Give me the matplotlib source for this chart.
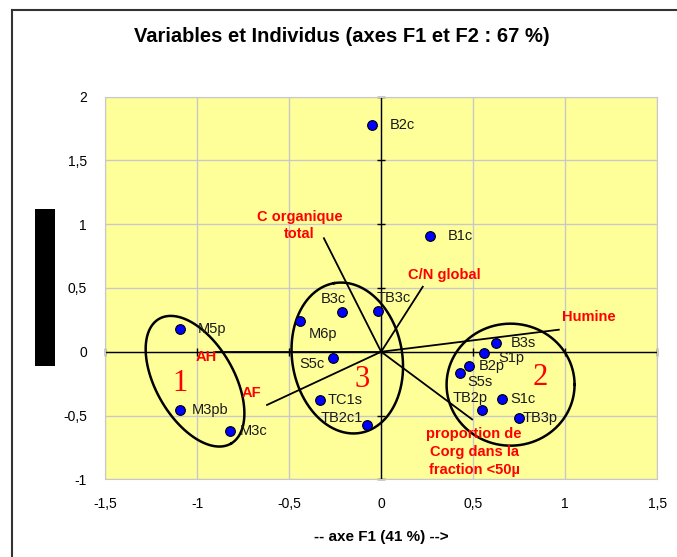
import numpy as np
import matplotlib
matplotlib.use("Agg")
import matplotlib.pyplot as plt
from matplotlib.lines import Line2D
from matplotlib.patches import Rectangle

plt.rcParams['font.family'] = ['Liberation Sans', 'DejaVu Sans']

# individuals (factor scores on F1 / F2)
ind_names = ["B2c", "B1c", "M5p", "M3pb", "M3c", "M6p", "B3c", "S5c", "TC1s",
             "TB2c1", "TB3c", "B3s", "S1p", "B2p", "S5s", "S1c", "TB2p", "TB3p"]
ind_x = [-0.05, 0.264, -1.095, -1.095, -0.82, -0.441, -0.215, -0.264, -0.334,
         -0.079, -0.015, 0.622, 0.557, 0.477, 0.428, 0.657, 0.548, 0.751]
ind_y = [1.78, 0.91, 0.18, -0.457, -0.62, 0.244, 0.31, -0.049, -0.378,
         -0.572, 0.32, 0.067, -0.01, -0.114, -0.164, -0.367, -0.459, -0.519]

# variables (correlation vectors)
var_names = ["C organique\ntotal", "C/N global", "Humine",
             "proportion de\nCorg dans la\nfraction <50µ", "AF", "AH"]
var_x = [-0.311, 0.226, 0.965, 0.494, -0.62, -0.9]
var_y = [0.89, 0.51, 0.173, -0.53, -0.417, 0.0]
var_lx = [-0.443, 0.343, 1.127, 0.505, -0.707, -0.95]
var_ly = [0.99, 0.605, 0.275, -0.786, -0.32, -0.04]

# groups: number, centre
grp_names = ["1", "3", "2"]
grp_x = [-1.095, -0.102, 0.865]
grp_y = [-0.247, -0.216, -0.2]

x_ticks = [-1.5, -1, -0.5, 0, 0.5, 1, 1.5]
x_labels = ["-1,5", "-1", "-0,5", "0", "0,5", "1", "1,5"]
y_ticks = [-1, -0.5, 0, 0.5, 1, 1.5, 2]
y_labels = ["-1", "-0,5", "0", "0,5", "1", "1,5", "2"]

# label placement (pixels offset, alignment)
lab_off = {
    "B2c": (18, 0, "left"), "B1c": (18, 0, "left"), "M5p": (18, 0, "left"),
    "M3pb": (12, 0, "left"), "M3c": (10, 0, "left"), "M6p": (9, -13, "left"),
    "B3c": (-8, 13, "center"), "S5c": (-8, -6, "right"), "TC1s": (8, 0, "left"),
    "TB2c1": (-4, 7, "right"), "TB3c": (15, 13, "center"), "B3s": (15, 0, "left"),
    "S1p": (15, -5, "left"), "B2p": (10, 0, "left"), "S5s": (7, -9, "left"),
    "S1c": (8, 0, "left"), "TB2p": (6, 12, "right"), "TB3p": (3, 0, "left"),
}

fig = plt.figure(figsize=(6.77, 5.57), dpi=100)
ax = fig.add_axes([0.1551, 0.1395, 0.8158, 0.6869])
ax.set_facecolor("#FFFF99")
ax.set_xlim(-1.5, 1.5)
ax.set_ylim(-1, 2)
ax.set_xticks(x_ticks)
ax.set_xticklabels(x_labels)
ax.set_yticks(y_ticks)
ax.set_yticklabels(y_labels)
ax.tick_params(length=0, labelsize=10, pad=13)
ax.grid(True, color="#C8C8C8", lw=1)
ax.set_axisbelow(True)
for s in ax.spines.values():
    s.set_color("#C8C8C8")

# central axes with ticks
ax.axhline(0, color="k", lw=1, zorder=2)
ax.axvline(0, color="k", lw=1, zorder=2)
ax.plot(x_ticks, np.zeros(len(x_ticks)), ls="none", marker="|", ms=6, mew=1, color="k", zorder=2, clip_on=False)
ax.plot(np.zeros(len(y_ticks)), y_ticks, ls="none", marker="_", ms=6, mew=1, color="k", zorder=2, clip_on=False)

# variable vectors
for nm, vx, vy, lx, ly in zip(var_names, var_x, var_y, var_lx, var_ly):
    ax.plot([0, vx], [0, vy], color="k", lw=1.3, zorder=3)
    ax.text(lx, ly, nm, color="red", fontweight="bold", fontsize=10.5,
            ha="center", va="center", linespacing=1.35, zorder=5)

# ellipses around groups (drawn in pixel space so they keep their shape)
sx = 552.3 / 3.0
sy = 382.6 / 3.0


def ellipse(cx, cy, a, b, ang):
    t = np.linspace(0, 2 * np.pi, 200)
    th = np.deg2rad(ang)
    px = a * np.cos(t) * np.cos(th) - b * np.sin(t) * np.sin(th)
    py = a * np.cos(t) * np.sin(th) + b * np.sin(t) * np.cos(th)
    ax.plot(cx + px / sx, cy + py / sy, color="k", lw=1.8, zorder=4)


ellipse(-1.011, -0.231, 72, 39, -60)
ellipse(-0.184, -0.049, 76, 55, 100)
ellipse(0.703, -0.258, 64, 61, 0)

for g, gx, gy in zip(grp_names, grp_x, grp_y):
    ax.text(gx, gy, g, color="red", fontsize=22, family="Liberation Serif",
            ha="center", va="center", zorder=5)

# individuals
ax.plot(ind_x, ind_y, ls="none", marker="o", ms=7, mfc="#0000FF", mec="k", mew=0.8, zorder=6)
for nm, x, y in zip(ind_names, ind_x, ind_y):
    dx, dy, ha = lab_off[nm]
    ax.annotate(nm, (x, y), xytext=(dx, dy), textcoords="offset pixels",
                ha=ha, va="center", fontsize=10.5, color="#1a1a1a", zorder=7)

fig.text(0.505, 0.9336, "Variables et Individus (axes F1 et F2 : 67 %)",
         ha="center", va="center", fontsize=14.5, fontweight="bold")
fig.text(0.563, 0.036, "-- axe F1 (41 %) -->", ha="center", va="center",
         fontsize=11, fontweight="bold")

# redacted y label block and outer frame
fig.patches.append(Rectangle((0.0517, 0.3429), 0.0295, 0.2819, transform=fig.transFigure,
                             facecolor="k", edgecolor="none"))
fig.lines.append(Line2D([11.5 / 677, 11.5 / 677], [0, 1 - 10 / 557], transform=fig.transFigure,
                        color="#333333", lw=1.5))
fig.lines.append(Line2D([11.5 / 677, 1], [1 - 10 / 557, 1 - 10 / 557], transform=fig.transFigure,
                        color="#333333", lw=1.5))

fig.savefig("out.png", dpi=100)
